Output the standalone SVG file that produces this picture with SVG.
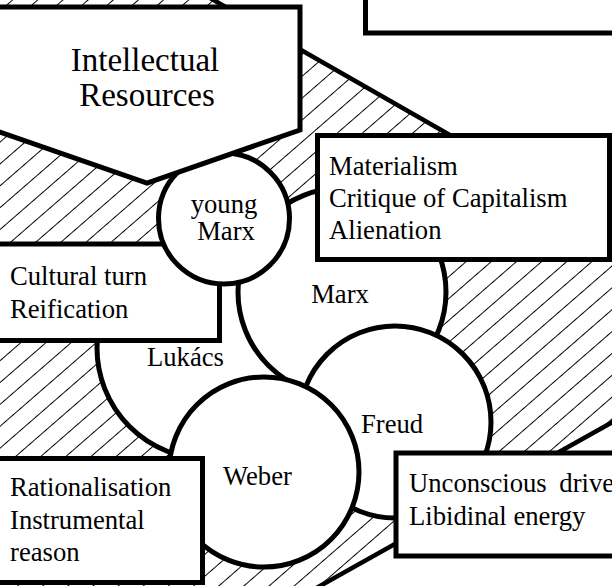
<svg xmlns="http://www.w3.org/2000/svg" width="612" height="586" viewBox="0 0 612 586">
  <defs>
    <pattern id="hatch" width="12" height="16.5" patternUnits="userSpaceOnUse" patternTransform="rotate(-41)">
      <rect width="12" height="16.5" fill="#fff"/>
      <line x1="0" y1="8.25" x2="12" y2="8.25" stroke="#000" stroke-width="1"/>
    </pattern>
  </defs>
  <style>
    .shape { fill: #fff; stroke: #000; stroke-width: 5; }
    .hatched { fill: url(#hatch); stroke: #000; stroke-width: 4.5; }
    .t { font-family: "Liberation Serif", "Times New Roman", serif; font-size: 26.67px; fill: #000; }
    .title { font-family: "Liberation Serif", "Times New Roman", serif; font-size: 33px; fill: #000; }
    .c { text-anchor: middle; }
  </style>
  <rect width="612" height="586" fill="#fff"/>

  <g id="field">
    <polygon class="hatched" points="-60,-50 126,-50 784,326 270,614 -60,614"/>
  </g>

  <g id="connectors"></g>

  <g id="lukacs">
    <circle class="shape" cx="208" cy="348" r="111"/>
    <text class="t" x="147" y="366">Lukács</text>
  </g>
  <g id="marx">
    <circle class="shape" cx="342" cy="292" r="104"/>
    <text class="t c" x="340" y="303">Marx</text>
  </g>
  <g id="freud">
    <circle class="shape" cx="395" cy="422" r="96"/>
    <text class="t" x="361" y="433">Freud</text>
  </g>
  <g id="weber">
    <circle class="shape" cx="264" cy="472" r="95"/>
    <text class="t" x="223" y="485">Weber</text>
  </g>

  <g id="cultural-box">
    <rect class="shape" x="-10" y="244" width="229.5" height="96.5"/>
    <text class="t" x="10" y="285">Cultural turn</text>
    <text class="t" x="10" y="318">Reification</text>
  </g>

  <g id="young-marx">
    <circle class="shape" cx="224" cy="218.5" r="65.5"/>
    <text class="t c" x="224" y="213">young</text>
    <text class="t c" x="226" y="240">Marx</text>
  </g>

  <g id="intellectual-resources">
    <polygon class="shape" points="-6,7 300,7 300,130 147,183 -6,130"/>
    <text class="title c" x="145" y="71">Intellectual</text>
    <text class="title c" x="147" y="106">Resources</text>
  </g>

  <g id="marx-box">
    <rect class="shape" x="317.5" y="135.5" width="292" height="124"/>
    <text class="t" x="329" y="175">Materialism</text>
    <text class="t" x="329" y="207">Critique of Capitalism</text>
    <text class="t" x="329" y="239">Alienation</text>
  </g>

  <g id="freud-box">
    <rect class="shape" x="396" y="453" width="224" height="103"/>
    <text class="t" x="409" y="492" word-spacing="6">Unconscious drive</text>
    <text class="t" x="409" y="525">Libidinal energy</text>
  </g>

  <g id="weber-box">
    <rect class="shape" x="-10" y="458.5" width="212.5" height="124"/>
    <text class="t" x="10" y="496">Rationalisation</text>
    <text class="t" x="10" y="529">Instrumental</text>
    <text class="t" x="10" y="561">reason</text>
  </g>

  <g id="top-box">
    <rect class="shape" x="365.5" y="-10" width="260" height="43"/>
  </g>
</svg>
